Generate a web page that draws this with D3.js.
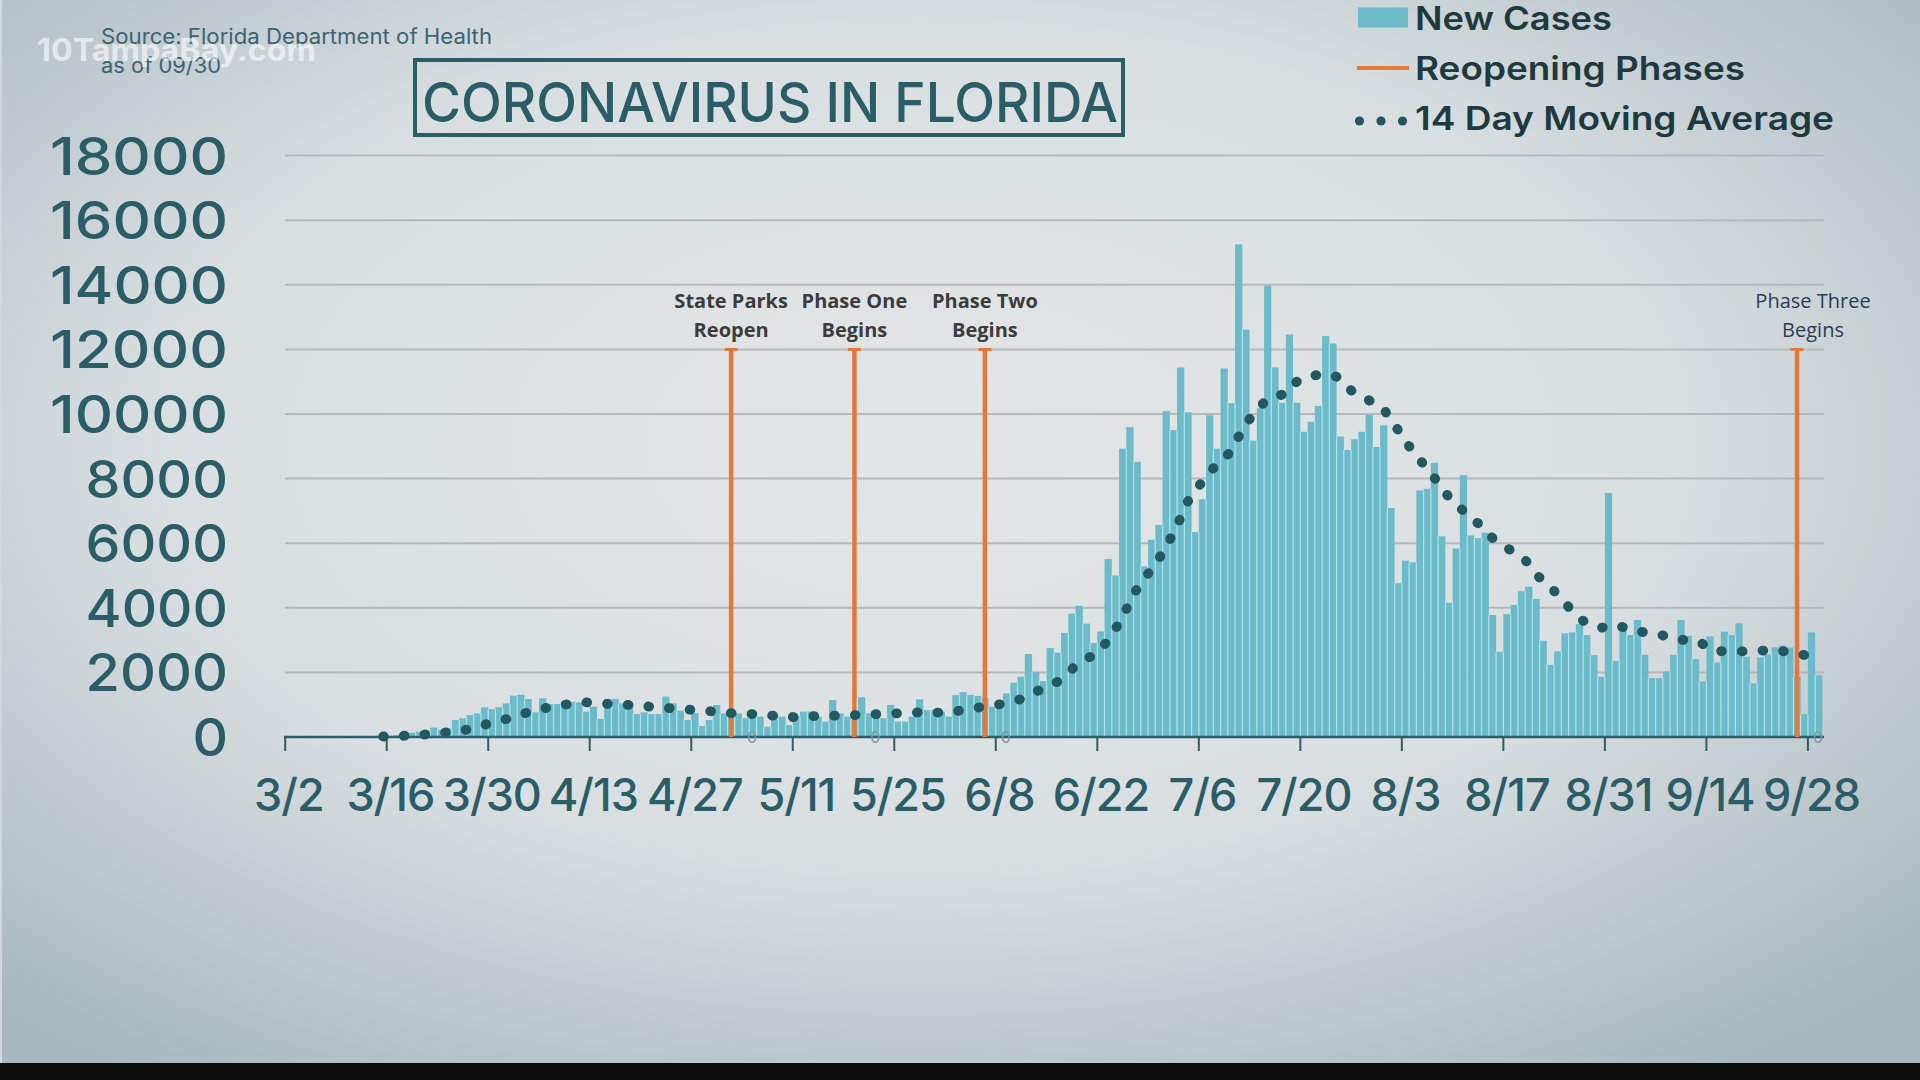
<!DOCTYPE html>
<html>
<head>
<meta charset="utf-8">
<script src="https://cdn.jsdelivr.net/npm/d3@7"></script>
<style>
  html, body { margin: 0; padding: 0; background: #000; }
  svg { display: block; }
</style>
</head>
<body>
<svg id="chart" width="1920" height="1080"></svg>
<script>
// ---------------- DATA ----------------
const startDate = "2020-03-02";

// Daily new cases, 3/2 ... 9/29 (one value per day)
const newCases = [
  2, 1, 3, 2, 5, 6, 4, 2, 6, 8, 15, 25, 35, 24,
  40, 60, 100, 130,
  165, 200, 290, 220, 270, 525, 580, 680, 730, 920, 860, 920,
  1040, 1280, 1310, 1175, 765, 1200, 1020, 1020, 1090, 1090, 1070, 785,
  940, 560, 1180, 1180, 1040, 1060, 710, 765, 710, 710, 1250, 1040, 815, 525, 740,
  340, 525, 990, 730, 630, 730, 580, 730, 630, 320, 730, 630, 370, 630,
  785, 785, 630, 475, 1145, 730, 630, 530, 1230, 730, 730, 580, 990, 475,
  475, 630, 1165, 835, 835, 785, 630, 1300, 1390, 1300, 1270, 1200, 940, 1095, 1350,
  1680, 1870, 2570, 2020, 1730, 2755, 2610,
  3226, 3821, 4061, 3508, 2913, 3268, 5512, 5000, 8926, 9594, 8519, 5283, 6107,
  6567, 10085, 9500, 11442, 10054, 6348, 7360, 9960, 8926, 11411, 10336, 15253, 12612, 9177,
  10179, 13969, 11442, 10346, 12465, 10346, 9448, 9761, 10252, 12413, 12183, 9302, 8884, 9218,
  9448, 9970, 8978, 9646, 7089, 4760, 5460, 5408, 7632, 7684, 8488, 6212, 4155, 5836,
  8104, 6240, 6158, 6324, 3778, 2639, 3809, 4088, 4513, 4657, 4275, 2981, 2236, 2650,
  3209, 3240, 3498, 3157, 2536, 1863, 7556, 2360, 3498, 3157, 3623, 2546, 1822, 1822,
  2029, 2546, 3623, 3136, 2412, 1718, 3115, 2308, 3260, 3157, 3519, 2484, 1656, 2463,
  2546, 2774, 2826, 2774, 1863, 704, 3240, 1915
];

// 14 day moving average, starting 3/15
const maStart = "3/15";
const movingAverage = [
  15, 20, 28, 40, 52, 65, 82, 100, 125, 150, 175, 205, 250, 310, 380, 440, 500,
  555, 625, 700, 765, 815, 880, 920, 960, 1000, 1030, 1050, 1070,
  1065, 1045, 1025, 1010, 1000, 990, 970, 950, 940, 920, 900, 885, 870, 850, 835,
  820, 800, 785, 765, 740, 725, 715, 710, 695, 675, 655, 640, 625, 612,
  620, 640, 658, 660, 660, 660, 668, 678, 688, 700, 708, 716, 724, 732,
  742, 752, 762, 762, 758, 754, 770, 800, 830, 870, 910, 940, 975, 1010, 1050,
  1100, 1180, 1290, 1400, 1500, 1590, 1710,
  1880, 2100, 2300, 2430, 2520, 2750, 2980, 3350, 3700, 4200, 4600, 4930, 5180,
  5520, 5920, 6300, 6800, 7300, 7600, 7920, 8180, 8460, 8650, 8840, 9300, 9700,
  9980, 10250, 10460, 10540, 10600, 10700, 11000, 11120, 11180, 11210, 11230, 11200, 11100, 10820,
  10650, 10530, 10420, 10300, 10160, 9800, 9500, 9180, 8830, 8580, 8300, 8020, 7720, 7420,
  7200, 7000, 6760, 6620, 6400, 6160, 6000, 5860, 5700, 5560, 5380, 5050, 4820, 4650,
  4400, 4150, 3900, 3680, 3520, 3440, 3380, 3420, 3470, 3400, 3320, 3270, 3240, 3210,
  3180, 3110, 3040, 3010, 3000, 3000, 2880, 2720, 2665, 2655, 2650, 2650, 2650, 2650,
  2670, 2690, 2700, 2660, 2620, 2575, 2540, 2510, 2480
];

const tickLabels = ["3/2","3/16","3/30","4/13","4/27","5/11","5/25","6/8","6/22","7/6","7/20","8/3","8/17","8/31","9/14","9/28"];
const yTicks = [0, 2000, 4000, 6000, 8000, 10000, 12000, 14000, 16000, 18000];

const phaseDates = ["5/2", "5/19", "6/6", "9/26"];
const phaseLabels = [["State Parks", "Reopen"], ["Phase One", "Begins"], ["Phase Two", "Begins"], ["Phase Three", "Begins"]];
const phaseTop = 12000;
const phaseValue = 0;

const legendItems = ["New Cases", "Reopening Phases", "14 Day Moving Average"];
const titleText = "CORONAVIRUS IN FLORIDA";
const sourceLines = ["Source: Florida Department of Health", "as of 09/30"];
const watermarkText = "10TampaBay.com";

// ---------------- SETUP ----------------
const fmt = d3.timeFormat("%-m/%-d");
const t0 = d3.timeParse("%Y-%m-%d")(startDate);
const dates = newCases.map((_, i) => fmt(d3.timeDay.offset(t0, i)));
const caseData = dates.map((d, i) => ({ date: d, v: newCases[i] }));
const maOffset = dates.indexOf(maStart);
const maData = movingAverage.map((v, i) => ({ date: dates[maOffset + i], v }));

const svg = d3.select("#chart");
const W = 1920, H = 1080;

const C = {
  bar: "#6dbbc9", sep: "#a6e3ec", grid: "#b5b9bb", axis: "#2f5e67",
  teal: "#2a5d66", dot: "#235860", orange: "#e4773a", legendText: "#1f3a3e",
  phaseText: "#3c3c3c", phase3Text: "#2c3d52"
};

// background
const defs = svg.append("defs");
const rg = defs.append("radialGradient").attr("id", "bg")
  .attr("cx", "48%").attr("cy", "42%").attr("r", "72%");
rg.append("stop").attr("offset", "0%").attr("stop-color", "#e3e6e7");
rg.append("stop").attr("offset", "55%").attr("stop-color", "#d9dfe1");
rg.append("stop").attr("offset", "100%").attr("stop-color", "#a8b6bd");
svg.append("rect").attr("width", W).attr("height", 1063).attr("fill", "url(#bg)");
svg.append("rect").attr("y", 1063).attr("width", W).attr("height", H - 1063).attr("fill", "#0d0d0d");
svg.append("rect").attr("x", 0).attr("y", 0).attr("width", 2).attr("height", 1063).attr("fill", "#d4d6d7");

// scales
const x = d3.scaleBand().domain(dates).range([285.2, 1822.4]).padding(0);
const bw = x.bandwidth();
const y = d3.scaleLinear().domain([0, 18000]).range([737, 155.6]);

// gridlines
svg.append("g").selectAll("line").data(yTicks.filter(v => v > 0)).join("line")
  .attr("x1", 285).attr("x2", 1824)
  .attr("y1", d => y(d)).attr("y2", d => y(d))
  .attr("stroke", C.grid).attr("stroke-width", 2);

// y labels
svg.append("g").selectAll("text").data(yTicks).join("text")
  .attr("x", 228).attr("y", d => y(d) + 19)
  .attr("text-anchor", "end")
  .attr("font-family", "Inter, Lato, sans-serif").attr("font-weight", 500)
  .attr("font-size", 52).attr("fill", C.teal)
  .attr("textLength", d => String(d).length * 35.6)
  .attr("lengthAdjust", "spacingAndGlyphs")
  .text(d => d);

// bars
svg.append("g").selectAll("rect").data(caseData).join("rect")
  .attr("x", d => x(d.date)).attr("width", bw)
  .attr("y", d => y(d.v)).attr("height", d => y(0) - y(d.v))
  .attr("fill", C.bar);

// light separators between bars
svg.append("g").selectAll("line").data(caseData.slice(1)).join("line")
  .attr("x1", d => x(d.date)).attr("x2", d => x(d.date))
  .attr("y1", y(0))
  .attr("y2", (d, i) => y(Math.min(d.v, caseData[i].v)))
  .attr("stroke", C.sep).attr("stroke-width", 1.3);

// x axis
const ax = svg.append("g");
ax.append("line").attr("x1", 284).attr("x2", 1824).attr("y1", y(0)).attr("y2", y(0))
  .attr("stroke", C.axis).attr("stroke-width", 2.5);
ax.selectAll("line.tick").data(tickLabels).join("line").attr("class", "tick")
  .attr("x1", d => x(d)).attr("x2", d => x(d))
  .attr("y1", y(0)).attr("y2", y(0) + 14)
  .attr("stroke", C.axis).attr("stroke-width", 2);
ax.selectAll("text").data(tickLabels).join("text")
  .attr("x", d => x(d) + bw / 2).attr("y", 811)
  .attr("text-anchor", "middle")
  .attr("font-family", "Inter, Lato, sans-serif").attr("font-weight", 500)
  .attr("font-size", 45).attr("letter-spacing", -1).attr("fill", C.teal)
  .text(d => d);

// phase lines
const pg = svg.append("g");
const phases = phaseDates.map((d, i) => ({ date: d, label: phaseLabels[i], i }));
const px = d => x(d.date) + bw / 2;
pg.selectAll("line.v").data(phases).join("line").attr("class", "v")
  .attr("x1", px).attr("x2", px).attr("y1", y(phaseValue)).attr("y2", y(phaseTop))
  .attr("stroke", C.orange).attr("stroke-width", 4.5);
pg.selectAll("line.cap").data(phases).join("line").attr("class", "cap")
  .attr("x1", d => px(d) - 6.5).attr("x2", d => px(d) + 6.5)
  .attr("y1", y(phaseTop)).attr("y2", y(phaseTop))
  .attr("stroke", C.orange).attr("stroke-width", 3);
pg.selectAll("text.zero").data(phases).join("text").attr("class", "zero")
  .attr("x", d => px(d) + 21).attr("y", y(phaseValue) + 6)
  .attr("text-anchor", "middle")
  .attr("font-family", "Inter, sans-serif").attr("font-size", 16)
  .attr("fill", "#7d97a0").text(phaseValue);

const last = phases.length - 1;
phases.forEach(d => {
  const isLast = d.i === last;
  const t = pg.append("text")
    .attr("text-anchor", "middle")
    .attr("font-family", "'Open Sans', sans-serif")
    .attr("font-weight", isLast ? 400 : 700)
    .attr("font-size", 20)
    .attr("fill", isLast ? C.phase3Text : C.phaseText);
  const cx = px(d) + (isLast ? 16 : 0);
  t.append("tspan").attr("x", cx).attr("y", y(phaseTop) - 41).text(d.label[0]);
  t.append("tspan").attr("x", cx).attr("y", y(phaseTop) - 12).text(d.label[1]);
});

// moving average dotted line
const line = d3.line().x(d => x(d.date) + bw / 2).y(d => y(d.v));
svg.append("path").datum(maData)
  .attr("d", line)
  .attr("fill", "none").attr("stroke", C.dot)
  .attr("stroke-width", 9.8).attr("stroke-linecap", "round")
  .attr("stroke-dasharray", "0.8 19.9");

// title
svg.append("rect").attr("x", 415).attr("y", 60).attr("width", 708).attr("height", 75)
  .attr("fill", "none").attr("stroke", C.teal).attr("stroke-width", 4);
svg.append("text").attr("x", 770).attr("y", 122).attr("text-anchor", "middle")
  .attr("font-family", "Inter, Lato, sans-serif").attr("font-weight", 500)
  .attr("font-size", 55).attr("fill", C.teal)
  .attr("textLength", 696).attr("lengthAdjust", "spacingAndGlyphs")
  .text(titleText);

// source + watermark
svg.append("g").selectAll("text").data(sourceLines).join("text")
  .attr("x", 101).attr("y", (d, i) => 44 + i * 29)
  .attr("font-family", "Inter, Lato, sans-serif").attr("font-size", 21)
  .attr("fill", "#3c6470")
  .attr("textLength", (d, i) => i === 0 ? 391 : 120)
  .attr("lengthAdjust", "spacingAndGlyphs")
  .text(d => d);
svg.append("text").attr("x", 37).attr("y", 61)
  .attr("font-family", "Inter, Lato, sans-serif").attr("font-weight", 700)
  .attr("font-size", 31).attr("fill", "#ffffff").attr("fill-opacity", 0.62)
  .attr("textLength", 279).attr("lengthAdjust", "spacingAndGlyphs")
  .text(watermarkText);

// legend
const lg = svg.append("g");
lg.append("rect").attr("x", 1358).attr("y", 7.5).attr("width", 50).attr("height", 20).attr("fill", C.bar);
lg.append("line").attr("x1", 1357).attr("x2", 1409).attr("y1", 68).attr("y2", 68)
  .attr("stroke", C.orange).attr("stroke-width", 4);
lg.selectAll("circle").data([0, 1, 2]).join("circle")
  .attr("cx", d => 1359.5 + d * 21.5).attr("cy", 121).attr("r", 4.6).attr("fill", C.dot);
const legendWidths = [197, 330, 419];
lg.selectAll("text").data(legendItems).join("text")
  .attr("x", 1415).attr("y", (d, i) => 30 + i * 50)
  .attr("font-family", "Inter, Lato, sans-serif").attr("font-weight", 600)
  .attr("font-size", 33).attr("fill", C.legendText)
  .attr("textLength", (d, i) => legendWidths[i]).attr("lengthAdjust", "spacingAndGlyphs")
  .text(d => d);
</script>
</body>
</html>
